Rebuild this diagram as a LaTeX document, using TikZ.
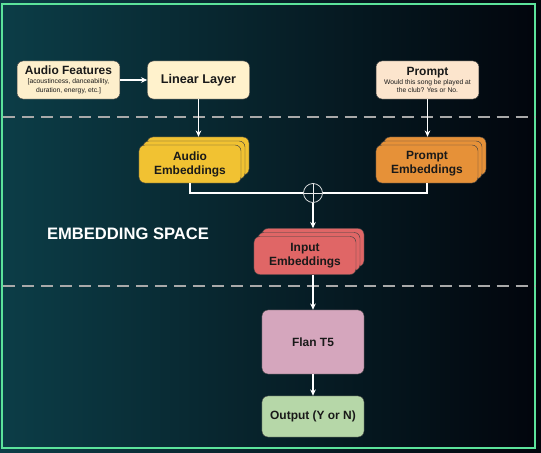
\documentclass[tikz,border=0pt]{standalone}
\usepackage{fontspec}
\setmainfont{Liberation Sans}
\usepackage{tikz}
\usetikzlibrary{arrows.meta}

\definecolor{bgleft}{HTML}{0C3D47}
\definecolor{bgmid}{HTML}{072A35}
\definecolor{bgright}{HTML}{02050C}
\definecolor{framegreen}{HTML}{5CE39B}
\definecolor{dashgray}{HTML}{A9A9A9}
\definecolor{featfill}{HTML}{FDEFCC}
\definecolor{linfill}{HTML}{FFF2CC}
\definecolor{promptfill}{HTML}{FCE5CD}
\definecolor{audiofill}{HTML}{F1C232}
\definecolor{promptembfill}{HTML}{E69138}
\definecolor{inputfill}{HTML}{E06666}
\definecolor{flanfill}{HTML}{D5A6BD}
\definecolor{outfill}{HTML}{B6D7A8}
% title with two small lines below
\newcommand{\titled}[3]{\parbox{2.5cm}{\centering\fontsize{8.5}{7.4}\selectfont\bfseries #1\par
    \fontsize{4.8}{6.3}\selectfont\mdseries #2\\#3\par}}

\begin{document}
\begin{tikzpicture}[
        x=0.025cm, y=-0.025cm,
        font=\fontsize{8.5}{10}\selectfont\bfseries,
        >={Stealth[length=4.5pt,width=4pt]}
    ]
    \tikzstyle{box}=[draw=black!75,line width=0.3pt,rounded corners=0.15cm,minimum width=2.55cm,minimum height=0.95cm,align=center,inner sep=1pt,text=black!90];
    \tikzstyle{arr}=[draw=white,line width=0.8pt];
    \tikzstyle{sep}=[draw=dashgray,line width=1.8pt,dash pattern=on 8.5pt off 5pt];
    \tikzstyle{sumpt}=[draw=white!85!gray,circle,minimum size=0.475cm,inner sep=0pt,line width=0.5pt,
        path picture={\draw[white!85!gray,line width=0.5pt]
            (path picture bounding box.north) -- (path picture bounding box.south)
            (path picture bounding box.west) -- (path picture bounding box.east);}];
    % background and frame
    \shade[left color=bgleft,middle color=bgmid,right color=bgright] (0,0) rectangle (541,453);
    \draw[framegreen,line width=1.5pt] (2,4) rectangle (535,448);
    \draw[sep] (3,117) -- (535,117);
    \draw[sep] (3,286) -- (535,286);
    % inputs
    \node[box,fill=featfill] (feat) at (68.5,80) {\titled{Audio Features}{[acoustincess, danceability,}{duration, energy, etc.]}};
    \node[box,fill=linfill,font=\fontsize{9}{11}\selectfont\bfseries] (lin) at (198.5,80) {Linear Layer};
    \node[box,fill=promptfill] (prompt) at (427.5,80) {\titled{Prompt}{Would this song be played at}{the club? Yes or No.}};
    % embeddings
    \node[box,fill=audiofill] (audio3) at (198,156) {};
    \node[box,fill=audiofill] (audio2) at (194,160) {};
    \node[box,fill=audiofill] (audio) at (190,164) {Audio\\Embeddings};
    \node[box,fill=promptembfill] (pemb3) at (435,156) {};
    \node[box,fill=promptembfill] (pemb2) at (431,160) {};
    \node[box,fill=promptembfill] (pemb) at (427,164) {Prompt\\Embeddings};
    \node[sumpt] (sum) at (313,193) {};
    \node[text=white,font=\fontsize{11.8}{14}\selectfont\bfseries] (space) at (128,234) {EMBEDDING SPACE};
    \node[box,fill=inputfill] (input3) at (313,247.5) {};
    \node[box,fill=inputfill] (input2) at (309,251.5) {};
    \node[box,fill=inputfill] (input) at (305,255.5) {Input\\Embeddings};
    % model and output
    \node[box,fill=flanfill,minimum height=1.6cm] (flan) at (313,342) {Flan T5};
    \node[box,fill=outfill,minimum height=1.025cm] (out) at (313,416.5) {Output (Y or N)};
    % connectors
    \draw[arr,->] (feat) -- (lin);
    \draw[arr,->] (lin) -- (lin |- audio3.north);
    \draw[arr,->] (prompt) -- (prompt |- pemb3.north);
    \draw[arr] (audio.south) |- (sum.west);
    \draw[arr] (pemb.south) |- (sum.east);
    \draw[arr,->] (sum.south) -- (sum.south |- input3.north);
    \draw[arr,->] (flan.north |- input.south) -- (flan.north);
    \draw[arr,->] (flan) -- (out);
\end{tikzpicture}
\end{document}
